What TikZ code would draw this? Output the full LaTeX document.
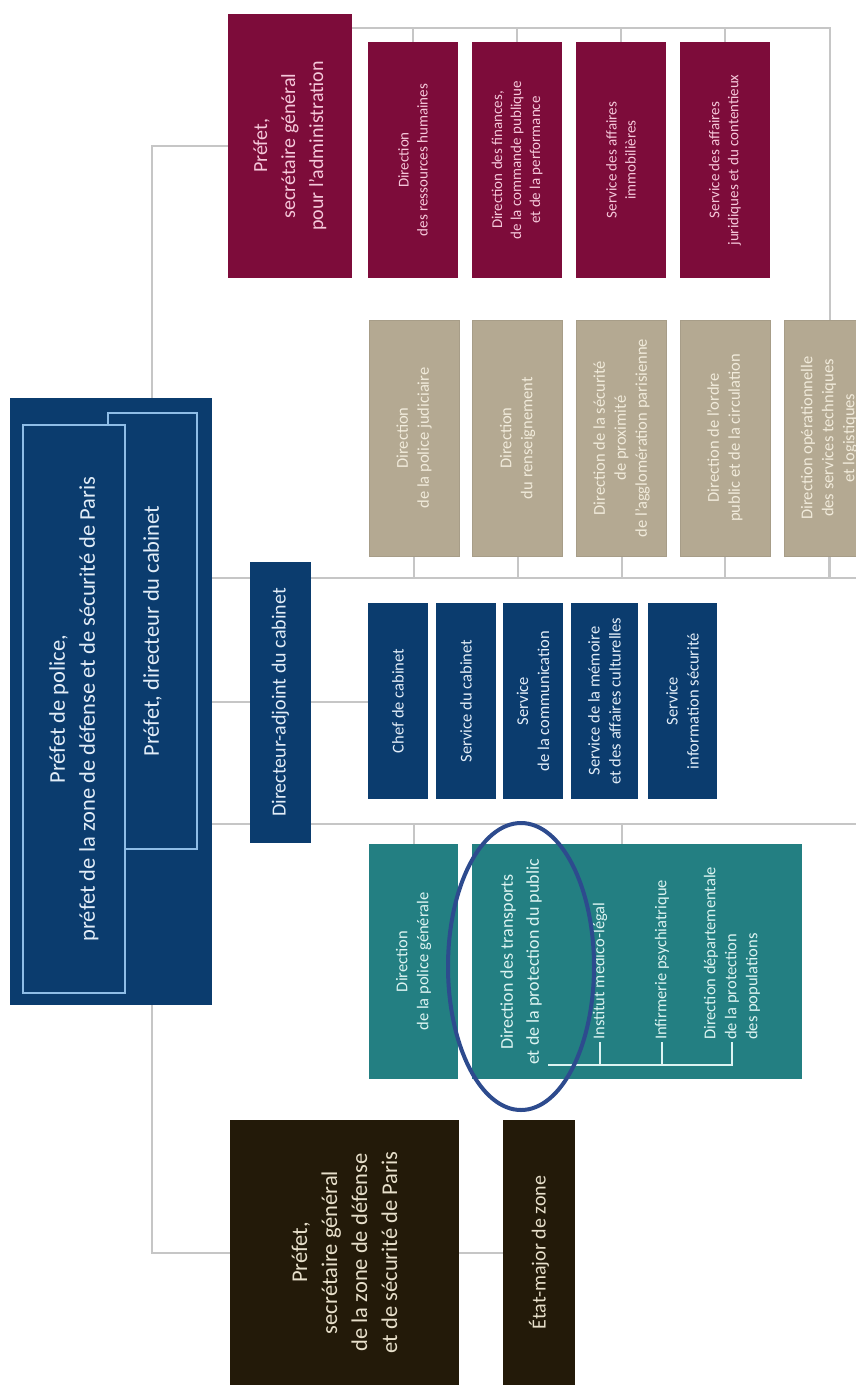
\documentclass[tikz,border=0pt]{standalone}
\usepackage{fontspec}
\setmainfont{Carlito}
\usepackage{tikz}
\usetikzlibrary{shapes.geometric, backgrounds}

\definecolor{navy}{HTML}{0B3C6E}
\definecolor{navytext}{HTML}{E2EDF8}
\definecolor{paleblue}{HTML}{8FBDE6}
\definecolor{bordeaux}{HTML}{7D0C3A}
\definecolor{rosetext}{HTML}{F5C8DA}
\definecolor{sand}{HTML}{B4A992}
\definecolor{sandedge}{HTML}{A79D88}
\definecolor{sandtext}{HTML}{F1EBDB}
\definecolor{petrol}{HTML}{237F82}
\definecolor{petroltext}{HTML}{DDF4F2}
\definecolor{bistre}{HTML}{231A09}
\definecolor{bistretext}{HTML}{E8E0CB}
\definecolor{linkgray}{HTML}{C6C6C6}
\definecolor{ringblue}{HTML}{2D4B8E}

\newcommand{\bigtxt}{\fontsize{22.5}{30}\selectfont}
\newcommand{\midtxt}{\fontsize{20}{28}\selectfont}
\newcommand{\smalltxt}{\fontsize{16.5}{21}\selectfont}
\newcommand{\redtxt}{\fontsize{15}{19}\selectfont}

\begin{document}
\begin{tikzpicture}[
  x=1pt, y=-1pt,
  box/.style={rectangle, rotate=90, inner sep=2pt, align=center},
  mainbox/.style={rectangle, fill=navy},
  innerbox/.style={box, draw=paleblue, line width=2pt, fill=navy, text=navytext, font=\bigtxt},
  redbox/.style={box, fill=bordeaux, text=rosetext, font=\redtxt},
  sandbox/.style={box, draw=sandedge, line width=1pt, fill=sand, text=sandtext, font=\smalltxt},
  navybox/.style={box, fill=navy, text=navytext, font=\smalltxt},
  tealbox/.style={rectangle, fill=petrol},
  tealtext/.style={box, text=petroltext, font=\smalltxt},
  darkbox/.style={box, fill=bistre, text=bistretext},
  link/.style={draw=linkgray, line width=2pt},
  bracket/.style={draw=petroltext, line width=2pt},
  ring/.style={ellipse, draw=ringblue, line width=4pt, inner sep=0pt}
]
\useasboundingbox (0,0) rectangle (856,1385);

% Prefet de police
\node[mainbox, minimum width=202, minimum height=607] (pp) at (111,701.5) {};
\node[innerbox, minimum width=436, minimum height=89] (dircab) at (152.5,631) {Préfet, directeur du cabinet};
\node[innerbox, minimum width=568, minimum height=102] (prefet) at (74,709) {Préfet de police,\\préfet de la zone de défense et de sécurité de Paris};

% Administration
\node[redbox, font=\midtxt, minimum width=264, minimum height=124] (sgadm) at (290,146) {Préfet,\\secrétaire général\\pour l'administration};
\node[redbox, minimum width=236, minimum height=90] (drh) at (413,160) {Direction\\des ressources humaines};
\node[redbox, minimum width=236, minimum height=90] (dfcpp) at (517,160) {Direction des finances,\\de la commande publique\\et de la performance};
\node[redbox, minimum width=236, minimum height=90] (sai) at (621,160) {Service des affaires\\immobilières};
\node[redbox, minimum width=236, minimum height=90] (sajc) at (725,160) {Service des affaires\\juridiques et du contentieux};

% Directions actives
\node[sandbox, minimum width=236, minimum height=90] (dpj) at (414,438) {Direction\\de la police judiciaire};
\node[sandbox, minimum width=236, minimum height=90] (dr) at (517.5,438) {Direction\\du renseignement};
\node[sandbox, minimum width=236, minimum height=90] (dsp) at (621.5,438) {Direction de la sécurité\\de proximité\\de l'agglomération parisienne};
\node[sandbox, minimum width=236, minimum height=90] (dopc) at (725,438) {Direction de l'ordre\\public et de la circulation};
\node[sandbox, minimum width=236, minimum height=90] (dosl) at (829,438) {Direction opérationnelle\\des services techniques\\et logistiques};

% Cabinet
\node[navybox, font=\midtxt, minimum width=281, minimum height=61] (dac) at (280.5,702.5) {Directeur-adjoint du cabinet};
\node[navybox, minimum width=196, minimum height=60] (chef) at (398,701) {Chef de cabinet};
\node[navybox, minimum width=196, minimum height=60] (scab) at (466,701) {Service du cabinet};
\node[navybox, minimum width=196, minimum height=60] (scom) at (533,701) {Service\\de la communication};
\node[navybox, minimum width=196, minimum height=67] (smac) at (604.5,701) {Service de la mémoire\\et des affaires culturelles};
\node[navybox, minimum width=196, minimum height=69] (sis) at (682.5,701) {Service\\information sécurité};

% Police generale et protection du public
\node[tealbox, minimum width=89, minimum height=235] (dpg) at (413.5,961.5) {};
\node[tealtext] (dpgtext) at (dpg) {Direction\\de la police générale};
\node[tealbox, minimum width=330, minimum height=235] (dtpp) at (637,961.5) {};
\node[tealtext, font=\fontsize{18}{26}\selectfont] (dtp) at (521,962) {Direction des transports\\et de la protection du public};
\node[tealtext, anchor=west] (iml) at (600,1042) {Institut médico-légal};
\node[tealtext, anchor=west] (ip) at (662,1042) {Infirmerie psychiatrique};
\node[tealtext, anchor=west, align=left] (ddpp) at (732,1042) {Direction départementale\\de la protection\\des populations};

% Zone de defense
\node[darkbox, font=\bigtxt, minimum width=265, minimum height=229] (sgzone) at (344.5,1252.5) {Préfet,\\secrétaire général\\de la zone de défense\\et de sécurité de Paris};
\node[darkbox, font=\midtxt, minimum width=265, minimum height=72] (etatmaj) at (539,1252.5) {État-major de zone};

% Liaisons
\coordinate (trunk) at (152,0);
\coordinate (rowtop) at (0,28);
\coordinate (rowsand) at (0,578);
\coordinate (rowteal) at (0,824);
\coordinate (rise) at (830,0);
\coordinate (edge) at (856,0);
\coordinate (brk) at (548,1065);

\begin{scope}[on background layer]
  \fill[white] (0,0) rectangle (856,1385);
  \draw[link] (sgadm.north) -| (trunk |- sgzone.north) -- (sgzone.north);
  \draw[link] (sgzone) -- (etatmaj);
  \draw[link] (sgadm.south |- rowtop) -| (rise |- rowsand);
  \foreach \n in {drh,dfcpp,sai,sajc}
    \draw[link] (\n.east) -- (\n.east |- rowtop);
  \draw[link] (pp.east |- rowsand) -- (edge |- rowsand);
  \foreach \n in {dpj,dr,dsp,dopc,dosl}
    \draw[link] (\n.west) -- (\n.west |- rowsand);
  \draw[link] (pp.east) -- (pp.east -| chef.north);
  \draw[link] (pp.east |- rowteal) -- (edge |- rowteal);
  \draw[link] (dpg.north) -- (dpg.north |- rowteal);
  \draw[link] (dsp.west |- dtpp.north) -- (dsp.west |- rowteal);
\end{scope}

\draw[bracket] (brk) -| (ddpp.west);
\draw[bracket] (iml.west) -- (iml.west |- brk);
\draw[bracket] (ip.west) -- (ip.west |- brk);

\node[ring, minimum width=146, minimum height=287] (circled) at (521,966.5) {};
\end{tikzpicture}
\end{document}
